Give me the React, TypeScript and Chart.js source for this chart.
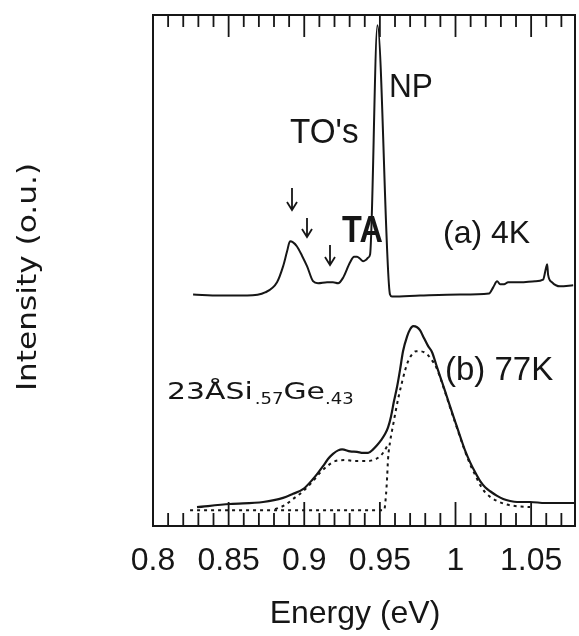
import { useEffect, useRef } from 'react';
import { Chart, registerables } from 'chart.js';

Chart.register(...registerables);

// ---- axis ----
const xTickValues = [0.8, 0.85, 0.9, 0.95, 1, 1.05];
const X_MIN = 0.8;
const X_MAX = 1.079;
const Y_MIN = 0;
const Y_MAX = 100;

// ---- (a) 4K spectrum ----
const spec4KEnergy = [
  0.8265, 0.8443, 0.8622, 0.8741, 0.882, 0.886, 0.8886, 0.8906, 0.8926, 0.8952,
  0.8985, 0.9019, 0.9058, 0.9091, 0.9151, 0.919, 0.9224, 0.9257, 0.9303, 0.9329,
  0.9349, 0.9369, 0.9389, 0.9409, 0.9422, 0.9435, 0.9484, 0.9567, 0.958,
  0.9766, 1.003, 1.0222, 1.0249, 1.0275, 1.0295, 1.0321, 1.0348, 1.0427, 1.0526,
  1.0579, 1.0599, 1.0606, 1.0612, 1.0638, 1.0691, 1.0778,
];
const spec4KIntensity = [
  45.3, 45.1, 45.1, 45.7, 47.7, 50.8, 53.7, 55.7, 55.5, 54.7,
  52.9, 50.8, 47.9, 47.5, 47.7, 47.7, 47.5, 48.6, 51.6, 52.7,
  52.7, 52.3, 51.8, 52.1, 52.5, 53.1, 98.0, 45.3, 44.9,
  45.1, 45.3, 45.5, 46.7, 47.9, 47.3, 47.3, 47.7, 47.7, 47.9,
  48.2, 50.6, 51.2, 49.2, 47.7, 46.9, 47.1,
];

// ---- (b) 77K spectrum ----
const spec77KEnergy = [
  0.8291, 0.8509, 0.8728, 0.886, 0.8926, 0.8992, 0.9058, 0.9091, 0.9124, 0.9157,
  0.919, 0.9224, 0.925, 0.9303, 0.9349, 0.9389, 0.9422, 0.9455, 0.9481, 0.9508,
  0.9534, 0.9554, 0.9574, 0.9593, 0.9614, 0.9634, 0.9653, 0.968, 0.97, 0.972,
  0.9746, 0.9766, 0.9786, 0.9819, 0.9845, 0.9872, 0.9898, 0.9931, 0.9964, 0.9997,
  1.003, 1.0063, 1.0096, 1.013, 1.0163, 1.0196, 1.0229, 1.0275, 1.0315, 1.0361,
  1.0407, 1.0493, 1.0593, 1.0692, 1.0791,
];
const spec77KIntensity = [
  3.7, 4.3, 4.7, 5.5, 6.3, 7.2, 9.2, 10.4, 11.7, 13.1,
  14.1, 14.8, 15.0, 14.6, 14.5, 14.3, 14.3, 15.0, 15.8, 16.8,
  18.0, 19.3, 21.5, 24.4, 27.3, 30.7, 34.2, 37.1, 38.5, 39.1,
  38.9, 38.3, 37.1, 35.2, 34.0, 31.6, 29.3, 26.4, 23.4, 20.5,
  17.6, 14.8, 12.5, 10.5, 8.8, 7.6, 6.8, 5.9, 5.3, 4.9,
  4.7, 4.7, 4.5, 4.5, 4.5,
];

// ---- fitted components (dashed) ----
const fitShoulderEnergy = [
  0.8807, 0.8873, 0.8926, 0.8992, 0.9058, 0.9104, 0.9151, 0.9204, 0.927, 0.9336,
  0.9402, 0.9455, 0.9495, 0.9528, 0.9554,
];
const fitShoulderIntensity = [
  3.3, 4.1, 5.3, 6.8, 8.8, 10.4, 11.7, 12.7, 12.9, 12.7,
  12.7, 12.9, 13.5, 14.6, 16.0,
];
const fitMainEnergy = [
  0.8245, 0.9528, 0.9541, 0.9548, 0.9554, 0.9567, 0.9587, 0.9606, 0.9626, 0.9646,
  0.9667, 0.9686, 0.9713, 0.9739, 0.9766, 0.9792, 0.9819, 0.9845, 0.9872, 0.9898,
  0.9931, 0.9964, 0.9997, 1.003, 1.0063, 1.0096, 1.013, 1.0163, 1.0196, 1.0229,
  1.0275, 1.0328, 1.0394, 1.0493,
];
const fitMainIntensity = [
  3.1, 3.1, 6.3, 9.6, 13.1, 16.4, 19.7, 22.7, 25.6, 28.1,
  30.5, 32.2, 33.6, 34.2, 34.2, 34.0, 33.4, 32.4, 31.1, 29.1,
  26.2, 23.2, 20.3, 17.4, 14.6, 12.1, 10.0, 8.0, 6.6, 5.7,
  4.9, 4.3, 3.9, 3.7,
];

const SANS = '"Liberation Sans", Arial, sans-serif';
const DJ = '"DejaVu Sans", Verdana, sans-serif';
const INK = '#161616';

const pts = (xs: number[], ys: number[]) => xs.map((x, i) => ({ x, y: ys[i] }));

function txt(ctx: CanvasRenderingContext2D, s: string, x: number, y: number, font: string, sx = 1, align: CanvasTextAlign = 'left') {
  ctx.save();
  ctx.font = font;
  ctx.translate(x, y);
  ctx.scale(sx, 1);
  ctx.textAlign = align;
  ctx.textBaseline = 'alphabetic';
  ctx.fillText(s, 0, 0);
  const w = ctx.measureText(s).width * sx;
  ctx.restore();
  return w;
}

const decorPlugin = {
  id: 'decor',
  afterDraw(chart: any) {
    const ctx: CanvasRenderingContext2D = chart.ctx;
    const { left, right, top, bottom } = chart.chartArea;
    const xs = chart.scales.x;
    ctx.save();
    ctx.strokeStyle = INK;
    ctx.fillStyle = INK;
    // frame
    ctx.lineWidth = 2;
    ctx.strokeRect(left, top, right - left, bottom - top);
    // inner ticks every 0.01
    ctx.lineWidth = 1.8;
    for (let i = 81; i <= 107; i++) {
      const px = xs.getPixelForValue(i / 100);
      const major = i % 5 === 0;
      ctx.beginPath();
      ctx.moveTo(px, top);
      ctx.lineTo(px, top + (major ? 22 : 12));
      ctx.moveTo(px, bottom);
      ctx.lineTo(px, bottom - (major ? 24 : 13));
      ctx.stroke();
    }
    // arrows
    const arrow = (x: number, y0: number, y1: number) => {
      ctx.lineWidth = 1.8;
      ctx.beginPath();
      ctx.moveTo(x, y0);
      ctx.lineTo(x, y1);
      ctx.moveTo(x - 5, y1 - 8);
      ctx.lineTo(x, y1);
      ctx.lineTo(x + 5, y1 - 8);
      ctx.stroke();
    };
    arrow(292, 188, 210);
    arrow(307, 218, 237);
    arrow(330, 245, 265);

    // annotations
    txt(ctx, 'NP', 389, 97, `34px ${SANS}`, 0.93);
    txt(ctx, "TO's", 290, 143, `35px ${SANS}`, 0.95);
    txt(ctx, 'TA', 342, 242, `bold 36px ${SANS}`, 0.9);
    txt(ctx, '(a) 4K', 443, 243, `32px ${SANS}`);
    txt(ctx, '(b) 77K', 445, 380, `33px ${SANS}`);

    // sample label
    let x = 167;
    x += txt(ctx, '23ÅSi', x, 399, `23px ${DJ}`, 1.3);
    x += 2;
    x += txt(ctx, '.57', x, 404, `15px ${DJ}`, 1.2);
    x += txt(ctx, 'Ge', x, 399, `23px ${DJ}`, 1.3);
    txt(ctx, '.43', x, 404, `15px ${DJ}`, 1.2);

    // axis titles
    ctx.save();
    ctx.translate(36, 277);
    ctx.rotate(-Math.PI / 2);
    ctx.font = `26px ${DJ}`;
    ctx.scale(1.2, 1);
    ctx.textAlign = 'center';
    ctx.textBaseline = 'alphabetic';
    ctx.fillText('Intensity (o.u.)', 0, 0);
    ctx.restore();

    txt(ctx, 'Energy (eV)', 355, 623, `32px ${SANS}`, 1, 'center');
    ctx.restore();
  },
};

export default function App() {
  const ref = useRef<HTMLCanvasElement | null>(null);
  useEffect(() => {
    if (!ref.current) return;
    const common = { pointRadius: 0, borderColor: INK, cubicInterpolationMode: 'monotone' as const, fill: false };
    const chart = new Chart(ref.current, {
      type: 'line',
      data: {
        datasets: [
          { ...common, label: '(a) 4K', data: pts(spec4KEnergy, spec4KIntensity), borderWidth: 2 },
          { ...common, label: '(b) 77K', data: pts(spec77KEnergy, spec77KIntensity), borderWidth: 2.2 },
          { ...common, label: 'fit shoulder', data: pts(fitShoulderEnergy, fitShoulderIntensity), borderWidth: 2, borderDash: [3, 4] },
          { ...common, label: 'fit main', data: pts(fitMainEnergy, fitMainIntensity), borderWidth: 2, borderDash: [3, 4] },
        ],
      },
      options: {
        responsive: false,
        maintainAspectRatio: false,
        devicePixelRatio: 1,
        animation: false,
        layout: { padding: { left: 153, top: 15, right: 4, bottom: 0 } },
        plugins: { legend: { display: false }, tooltip: { enabled: false } },
        scales: {
          x: {
            type: 'linear',
            min: X_MIN,
            max: X_MAX,
            position: 'bottom',
            grid: { display: false, drawTicks: false },
            border: { display: false },
            afterBuildTicks: (s: any) => {
              s.ticks = xTickValues.map((v) => ({ value: v }));
            },
            afterFit: (s: any) => {
              s.height = 110;
            },
            ticks: {
              autoSkip: false,
              maxRotation: 0,
              padding: 16,
              color: INK,
              font: { family: SANS, size: 32 },
              callback: (v: any) => String(Number(v)),
            },
          },
          y: {
            type: 'linear',
            min: Y_MIN,
            max: Y_MAX,
            display: false,
          },
        },
      },
      plugins: [decorPlugin],
    });
    return () => chart.destroy();
  }, []);
  return (
    <div style={{ position: 'fixed', left: 0, top: 0, width: 579, height: 636, background: '#fff' }}>
      <canvas ref={ref} width={579} height={636} style={{ display: 'block' }} />
    </div>
  );
}
